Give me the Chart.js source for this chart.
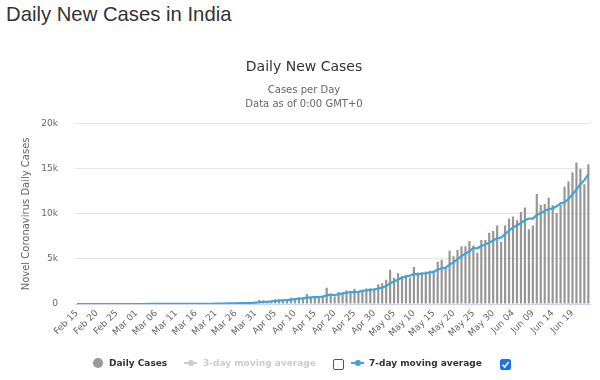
<!DOCTYPE html>
<html>
<head>
<meta charset="utf-8">
<script src="https://cdn.jsdelivr.net/npm/chart.js@4.4.0/dist/chart.umd.min.js"></script>
<style>
  html, body { margin: 0; padding: 0; background: #fff; }
  #wrap { position: relative; width: 600px; height: 380px; overflow: hidden; }
  #pageTitle { position: absolute; left: 6px; top: 3px; font-family: "Liberation Sans", Arial, sans-serif; font-size: 20.3px; color: #333; white-space: nowrap; }
  canvas { position: absolute; left: 0; top: 0; }
  #legend { position: absolute; left: 0; top: 355px; width: 600px; height: 16px; font-family: "DejaVu Sans", sans-serif; font-size: 9px; font-weight: bold; }
  #legend .it { position: absolute; top: 0; line-height: 16px; white-space: nowrap; }
  .dot { position: absolute; border-radius: 50%; }
  .cb { position: absolute; width: 9px; height: 9px; border: 1px solid #555; border-radius: 2px; background: #fff; box-sizing: content-box; }
  .cb.on { background: #1a73e8; border-color: #1a73e8; }
</style>
</head>
<body>
<div id="wrap">
  <div id="pageTitle">Daily New Cases in India</div>
  <canvas id="c" width="600" height="380"></canvas>
  <div id="legend">
    <span class="dot" style="left:93px;top:3px;width:10px;height:10px;background:#999;"></span>
    <span class="it" style="left:109px;color:#333;">Daily Cases</span>
    <span style="position:absolute;left:184px;top:7px;width:13px;height:2px;background:#ccc;"></span>
    <span class="dot" style="left:188px;top:5px;width:6px;height:6px;background:#ccc;"></span>
    <span class="it" style="left:203px;color:#ccc;">3-day moving average</span>
    <span class="cb" style="left:333px;top:4px;"></span>
    <span style="position:absolute;left:351px;top:7px;width:13px;height:2px;background:#3da5d9;"></span>
    <span class="dot" style="left:355px;top:5px;width:6px;height:6px;background:#3da5d9;"></span>
    <span class="it" style="left:369px;color:#333;">7-day moving average</span>
    <span class="cb on" style="left:500px;top:4px;"><svg width="9" height="9" viewBox="0 0 9 9" style="position:absolute;left:0;top:0"><path d="M1.5 4.8 L3.7 7 L7.6 2" stroke="#fff" stroke-width="1.6" fill="none"/></svg></span>
  </div>
</div>
<script>
// ---- data ----
const months = ['Feb', 'Mar', 'Apr', 'May', 'Jun'];
const monthFirstDay = [15, 1, 1, 1, 1];
const monthLastDay = [29, 31, 30, 31, 23];

const dailyCases = [
  0,0,0,0,0,0,0,0,0,0,0,0,0,0,0,
  0,2,1,22,2,1,3,5,9,15,6,13,8,21,6,23,19,14,22,62,80,75,97,69,96,70,160,101,106,227,260,
  437,400,235,320,505,489,540,565,680,620,720,735,1100,720,730,820,900,1800,1150,830,1320,1300,1500,1400,1700,1430,1520,1720,1740,1750,
  2200,2300,2700,3800,2900,3400,3100,3200,2900,4100,3500,3500,3600,3700,3700,4700,4900,4100,5900,5300,6000,6400,6400,7000,6500,5700,7100,7100,7900,8100,8700,
  6900,8700,9500,9700,9300,10200,10700,8300,8700,12200,11000,11100,11800,11000,10100,11000,13000,13600,14600,15700,15000,13300,15500
];

const movingAvg7 = [
  0,0,0,0,0,0,0,0,0,0,0,0,0,0,0,
  0,0,0,4,4,4,4,5,6,8,6,7,8,11,11,13,14,15,16,24,32,42,53,60,72,78,92,95,100,118,146,
  194,242,252,284,341,378,418,436,476,531,588,621,709,734,758,778,818,972,1031,993,1079,1160,1257,1329,1314,1354,1453,1510,1573,1609,
  1723,1809,1990,2316,2484,2721,2914,3057,3143,3343,3300,3386,3414,3500,3571,3829,3943,4029,4371,4614,4943,5329,5571,5871,6214,6186,6443,6600,6814,7057,7300,
  7357,7786,8129,8500,8700,9000,9286,9486,9486,9871,10057,10314,10543,10586,10843,11171,11286,11657,12157,12714,13286,13743,14386
];

const yTickValues = [0, 5000, 10000, 15000, 20000];
const yTickLabels = ['0', '5k', '10k', '15k', '20k'];

// categories (dates)
const categories = [];
months.forEach((m, i) => {
  for (let d = monthFirstDay[i]; d <= monthLastDay[i]; d++) {
    categories.push(m + ' ' + (d < 10 ? '0' + d : '' + d));
  }
});

const grey = '#666666';
new Chart(document.getElementById('c'), {
  data: {
    labels: categories,
    datasets: [
      {
        type: 'line', label: '7-day moving average', data: movingAvg7,
        borderColor: '#3da5d9', borderWidth: 2.2, pointRadius: 0, tension: 0, order: 0, fill: false
      },
      {
        type: 'bar', label: 'Daily Cases', data: dailyCases,
        backgroundColor: '#969696', barPercentage: 0.55, categoryPercentage: 1, order: 1
      }
    ]
  },
  options: {
    responsive: false,
    animation: false,
    devicePixelRatio: 1,
    layout: { padding: { top: 47, left: 16, right: 8, bottom: 0 } },
    plugins: {
      legend: { display: false },
      tooltip: { enabled: false },
      title: {
        display: true, text: 'Daily New Cases', color: '#333',
        font: { family: 'DejaVu Sans', size: 14, weight: 'normal', lineHeight: 1.2 },
        padding: { top: 12, bottom: 8 }
      },
      subtitle: {
        display: true, text: ['Cases per Day', 'Data as of 0:00 GMT+0'], color: grey,
        font: { family: 'DejaVu Sans', size: 10, weight: 'normal', lineHeight: 1.35 },
        padding: { top: 0, bottom: 13 }
      }
    },
    scales: {
      x: {
        type: 'category', offset: true,
        grid: { display: false, drawTicks: false },
        border: { display: true, color: '#ccd6eb', width: 1 },
        ticks: {
          autoSkip: false, minRotation: 45, maxRotation: 45, padding: 4,
          color: grey, font: { family: 'DejaVu Sans', size: 9 },
          callback: (v, i) => (i % 5 === 0 ? categories[i] : '')
        },
        afterFit: s => { s.height = 76; }
      },
      y: {
        min: 0, max: 20000,
        afterBuildTicks: s => { s.ticks = yTickValues.map(v => ({ value: v })); },
        grid: { color: '#e6e6e6', lineWidth: 1, drawTicks: false },
        border: { display: false },
        ticks: {
          padding: 17, color: grey, font: { family: 'DejaVu Sans', size: 9 },
          callback: v => yTickLabels[yTickValues.indexOf(v)]
        },
        title: {
          display: true, text: 'Novel Coronavirus Daily Cases', color: grey,
          font: { family: 'DejaVu Sans', size: 10, weight: 'normal' }
        },
        afterFit: s => { s.width = 59; }
      }
    }
  }
});
</script>
</body>
</html>
